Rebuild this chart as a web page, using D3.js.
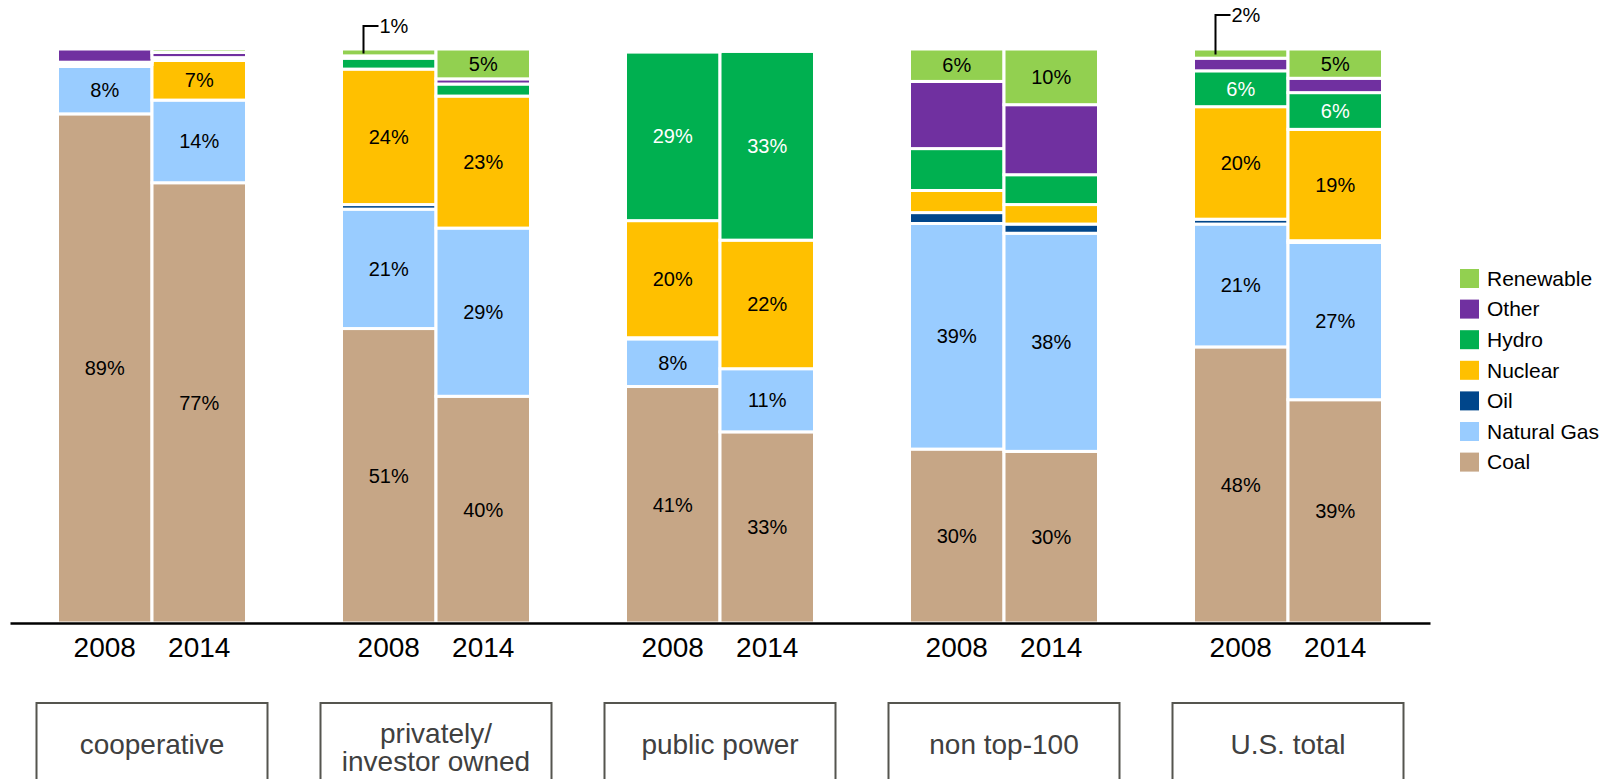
<!DOCTYPE html>
<html>
<head>
<meta charset="utf-8">
<script src="https://cdn.jsdelivr.net/npm/d3@7"></script>
<style>
  body { margin: 0; background: #fff; }
  svg text { font-family: "Liberation Sans", Arial, sans-serif; }
</style>
</head>
<body>
<div class="chart"></div>
<script>
// categories
var groups = ["cooperative", "privately/\ninvestor owned", "public power", "non top-100", "U.S. total"];
var years = ["2008", "2014"];
var seriesNames = ["Coal", "Natural Gas", "Oil", "Nuclear", "Hydro", "Other", "Renewable"];

// share of generation (%), bar order: coop 08, coop 14, private 08, private 14, ...
var coal      = [88.7, 76.7, 51.3, 39.5, 41.2, 33.3, 30.3, 29.9, 48.1, 38.9];
var gas       = [8.25, 14.4, 20.8, 29.3, 8.3, 11.0, 39.3, 38.0, 21.4, 27.4];
var oil       = [0.35, 0, 0.8, 0, 0.2, 0, 1.9, 1.6, 0.85, 0.3];
var nuclear   = [0, 6.9, 23.6, 23.0, 20.4, 22.4, 3.85, 3.4, 19.6, 19.4];
var hydro     = [0.4, 0.5, 1.9, 2.1, 29.4, 32.9, 7.3, 5.2, 6.25, 6.4];
var other     = [2.3, 0.9, 0.4, 0.9, 0.5, 0.2, 11.7, 12.2, 2.2, 2.5];
var renewable = [0, 0.6, 1.2, 5.2, 0, 0.2, 5.65, 9.7, 1.6, 5.1];

// which segments carry a label inside: [bar index, series]
var insideLabels = [
  [0, "Coal"], [0, "Natural Gas"],
  [1, "Coal"], [1, "Natural Gas"], [1, "Nuclear"],
  [2, "Coal"], [2, "Natural Gas"], [2, "Nuclear"],
  [3, "Coal"], [3, "Natural Gas"], [3, "Nuclear"], [3, "Renewable"],
  [4, "Coal"], [4, "Natural Gas"], [4, "Nuclear"], [4, "Hydro"],
  [5, "Coal"], [5, "Natural Gas"], [5, "Nuclear"], [5, "Hydro"],
  [6, "Coal"], [6, "Natural Gas"], [6, "Renewable"],
  [7, "Coal"], [7, "Natural Gas"], [7, "Renewable"],
  [8, "Coal"], [8, "Natural Gas"], [8, "Nuclear"], [8, "Hydro"],
  [9, "Coal"], [9, "Natural Gas"], [9, "Nuclear"], [9, "Hydro"], [9, "Renewable"]
];
// small segments labelled with a leader line instead
var calloutLabels = [[2, "Renewable"], [8, "Renewable"]];

var colors = {
  "Renewable": "#92d050",
  "Other": "#7030a0",
  "Hydro": "#00b050",
  "Nuclear": "#ffc000",
  "Oil": "#00468b",
  "Natural Gas": "#99ccff",
  "Coal": "#c6a686"
};
var legendOrder = ["Renewable", "Other", "Hydro", "Nuclear", "Oil", "Natural Gas", "Coal"];

var W = 1613, H = 779;
var baseY = 623, topY = 49;

var svg = d3.select(".chart").append("svg")
  .attr("width", W)
  .attr("height", H);

// build rows for the stack
var cols = [coal, gas, oil, nuclear, hydro, other, renewable];
var rows = [];
groups.forEach(function (g, gi) {
  years.forEach(function (yr, yi) {
    var i = gi * years.length + yi;
    var row = {group: g, year: yr, idx: i};
    seriesNames.forEach(function (s, si) { row[s] = cols[si][i]; });
    rows.push(row);
  });
});

var stack = d3.stack().keys(seriesNames);
var layers = stack(rows);

var x0 = d3.scaleBand().domain(groups).range([10, 1430]).paddingInner(0).paddingOuter(0);
var pairW = 189;
var x1 = d3.scaleBand().domain(years).range([0, pairW]).padding(0);
var pairOff = (x0.bandwidth() - pairW) / 2;
var y = d3.scaleLinear().domain([0, 100]).range([baseY, topY]);

function barX(d) { return x0(d.data.group) + pairOff + x1(d.data.year); }

// bars
var layer = svg.append("g").attr("class", "bars")
  .selectAll("g")
  .data(layers)
  .enter().append("g")
  .attr("fill", function (d) { return colors[d.key]; });

layer.selectAll("rect")
  .data(function (d) { return d; })
  .enter().append("rect")
  .attr("x", barX)
  .attr("y", function (d) { return y(d[1]); })
  .attr("width", x1.bandwidth())
  .attr("height", function (d) { return Math.max(0, y(d[0]) - y(d[1])); })
  .attr("stroke", "#fff")
  .attr("stroke-width", 3);

// labels inside segments
function findSeg(idx, key) {
  var L = layers.filter(function (l) { return l.key === key; })[0];
  return L[idx];
}

svg.append("g").attr("class", "labels")
  .selectAll("text")
  .data(insideLabels)
  .enter().append("text")
  .attr("x", function (d) { return barX(findSeg(d[0], d[1])) + x1.bandwidth() / 2; })
  .attr("y", function (d) { var s = findSeg(d[0], d[1]); return (y(s[0]) + y(s[1])) / 2; })
  .attr("dy", "0.35em")
  .attr("text-anchor", "middle")
  .style("font-size", "20px")
  .attr("fill", function (d) { return d[1] === "Hydro" ? "#fff" : "#000"; })
  .text(function (d) { var s = findSeg(d[0], d[1]); return Math.round(s[1] - s[0]) + "%"; });

// callouts for tiny top segments
var liftBy = [23, 34];
calloutLabels.forEach(function (c, i) {
  var s = findSeg(c[0], c[1]);
  var lx = barX(s) + 22;
  var ly = (y(s[0]) + y(s[1])) / 2 + 1;
  var ty = y(s[1]) - liftBy[i];
  svg.append("path")
    .attr("d", "M" + lx + "," + ly + "V" + ty + "H" + (lx + 15))
    .attr("fill", "none")
    .attr("stroke", "#000")
    .attr("stroke-width", 2);
  svg.append("text")
    .attr("x", lx + 16)
    .attr("y", ty)
    .attr("dy", "0.35em")
    .style("font-size", "20px")
    .text(Math.round(s[1] - s[0]) + "%");
});

// baseline
svg.append("g")
  .attr("class", "x axis")
  .attr("transform", "translate(0," + baseY + ")")
  .call(d3.axisBottom(x0).tickSize(0).tickFormat(""))
  .select(".domain")
  .attr("stroke", "#000")
  .attr("stroke-width", 2.6);

// year ticks per group
groups.forEach(function (g) {
  var ax = svg.append("g")
    .attr("class", "year axis")
    .attr("transform", "translate(" + (x0(g) + pairOff) + "," + baseY + ")")
    .call(d3.axisBottom(x1).tickSize(0).tickPadding(14));
  ax.select(".domain").remove();
  ax.selectAll("text")
    .attr("fill", "#000")
    .style("font-size", "28px")
    .style("font-family", "'Liberation Sans', Arial, sans-serif");
});

// category boxes
var boxW = 231;
var box = svg.append("g").attr("class", "boxes")
  .selectAll("g")
  .data(groups)
  .enter().append("g")
  .attr("transform", function (d) { return "translate(" + (x0(d) + x0.bandwidth() / 2) + ",0)"; });

box.append("rect")
  .attr("x", -boxW / 2)
  .attr("y", 703)
  .attr("width", boxW)
  .attr("height", 110)
  .attr("fill", "none")
  .attr("stroke", "#55554f")
  .attr("stroke-width", 2);

box.each(function (d) {
  var lines = d.split("\n");
  var t = d3.select(this).append("text")
    .attr("text-anchor", "middle")
    .attr("fill", "#404040")
    .style("font-size", "28px");
  var y0 = lines.length === 1 ? 744 : 733;
  lines.forEach(function (ln, i) {
    t.append("tspan")
      .attr("x", 0)
      .attr("y", y0 + i * 28)
      .attr("dy", "0.35em")
      .text(ln);
  });
});

// legend
var leg = svg.append("g").attr("class", "legend")
  .selectAll("g")
  .data(legendOrder)
  .enter().append("g")
  .attr("transform", function (d, i) { return "translate(1460," + (269 + i * 30.6) + ")"; });

leg.append("rect")
  .attr("width", 19)
  .attr("height", 19)
  .attr("fill", function (d) { return colors[d]; });

leg.append("text")
  .attr("x", 27)
  .attr("y", 9.5)
  .attr("dy", "0.35em")
  .style("font-size", "21px")
  .text(function (d) { return d; });
</script>
</body>
</html>
